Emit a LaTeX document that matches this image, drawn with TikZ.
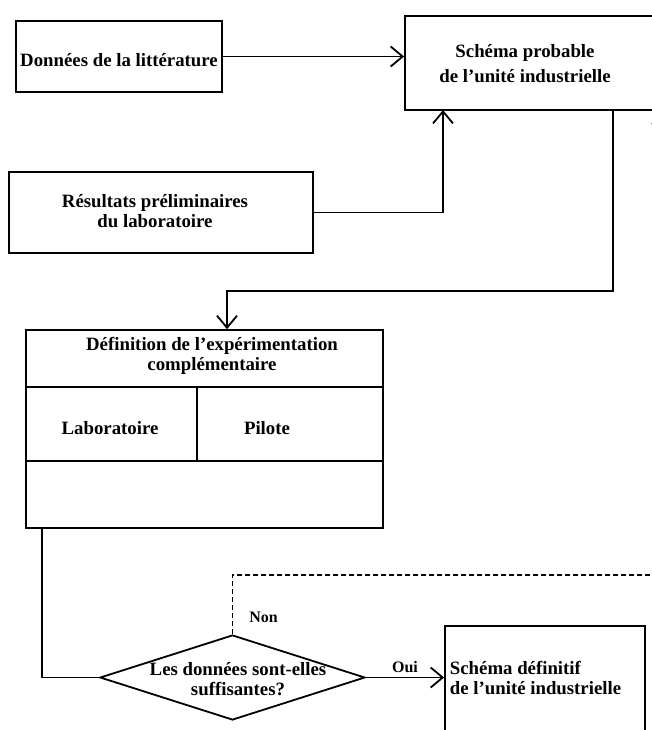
\documentclass[tikz,border=0pt]{standalone}
\usepackage{fontspec}
\setmainfont{Liberation Serif}
\usetikzlibrary{arrows.meta,shapes.geometric,fit}

\tikzset{
  box/.style={draw, line width=0.9pt, inner sep=0pt},
  lbl/.style={font=\bfseries\fontsize{9.4}{10}\selectfont, align=center, inner sep=1pt},
  small/.style={font=\bfseries\fontsize{8}{9}\selectfont, inner sep=2pt},
  arr/.style={-{Straight Barb[length=6pt,width=10pt]}},
  dashline/.style={dash pattern=on 2.5pt off 1.5pt},
}

\begin{document}
\begin{tikzpicture}[x=0.5pt,y=-0.5pt,line width=0.9pt]
\useasboundingbox (0,0) rectangle (652,730);

% boxes
\node[box,fit={(16,21) (222,92)}] (donnees) {};
\node[box,fit={(405,16) (720,110)}] (probable) {};
\node[box,fit={(9,172) (313,253)}] (resultats) {};
\node[box,fit={(26,330) (383,387)}] (defn) {};
\node[box,fit={(26,387) (197,461)}] (labo) {};
\node[box,fit={(197,387) (383,461)}] (pilote) {};
\node[box,fit={(26,461) (383,528)}] (vide) {};
\node[box,diamond,minimum width=132.5pt,minimum height=42.5pt] (test) at (232.5,677.5) {};
\node[box,fit={(445,626) (645,770)}] (final) {};

% texts
\node[lbl] (donneestxt) at (119,60) {Données de la littérature};
\node[lbl,font=\bfseries\fontsize{9.4}{12.5}\selectfont] (probabletxt) at (525,64) {Schéma probable\\de l'unité industrielle};
\node[lbl] (resultatstxt) at (155,211) {Résultats préliminaires\\du laboratoire};
\node[lbl] (defntxt) at (212,356) {Définition de l'expérimentation\\complémentaire};
\node[lbl] (labotxt) at (110,428) {Laboratoire};
\node[lbl] (pilotetxt) at (267,428) {Pilote};
\node[lbl] (testtxt) at (238,679) {Les données sont-elles\\suffisantes?};
\node[lbl,align=left,anchor=west] (finaltxt) at (447,678) {Schéma définitif\\de l'unité industrielle};

% connectors
\coordinate (pin) at (443,110);
\coordinate (pout) at (613,110);
\coordinate (bend) at (227,291);
\coordinate (tout) at (42,528);
\coordinate (back) at (662,575);

\draw[arr] (donnees.east) -- (donnees.east -| probable.west);
\draw[arr] (resultats.east) -| (pin);
\draw[arr] (pout) |- (bend) -- (bend |- defn.north);
\draw (tout) |- (test.west);
\draw[arr] (test.east) -- (final.west |- test.east) node[midway,above,small] (oui) {Oui};
\draw[arr,dashline] (test.north) |- (back) node[pos=0.14,right=6pt,small] (non) {Non} -- (back |- probable.south);
\end{tikzpicture}
\end{document}
